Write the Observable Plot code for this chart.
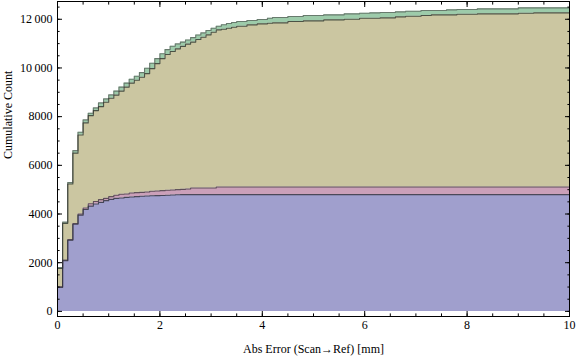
<!DOCTYPE html>
<html><head><meta charset="utf-8">
<script src="https://cdn.jsdelivr.net/npm/d3@7"></script>
<script src="https://cdn.jsdelivr.net/npm/@observablehq/plot@0.6"></script>
<style>
html,body{margin:0;padding:0;background:#fff;}
</style></head><body><div id="chart"></div>
<script>
// Cumulative histogram, bins of 0.1 mm from 0 to 10 mm (stacked series, cumulative tops)
const binWidth = 0.1;
const blueTop = [
  986,2083,2920,3577,3953,4188,4323,4413,4480,4549,
  4603,4644,4660,4685,4700,4713,4727,4741,4750,4754,
  4762,4770,4783,4790,4796,4796,4796,4796,4796,4796,
  4796,4796,4796,4796,4796,4796,4796,4796,4796,4796,
  4796,4796,4796,4796,4796,4796,4796,4796,4796,4796,
  4796,4796,4796,4796,4796,4796,4796,4796,4796,4796,
  4796,4796,4796,4796,4796,4796,4796,4796,4796,4796,
  4796,4796,4796,4796,4796,4796,4796,4796,4796,4796,
  4796,4796,4796,4796,4796,4796,4796,4796,4796,4796,
  4796,4796,4796,4796,4796,4796,4796,4796,4796,4796];
const pinkTop = [
  1010,2105,2950,3610,4000,4250,4420,4515,4590,4644,
  4713,4768,4809,4823,4864,4878,4890,4906,4933,4945,
  4960,4975,4988,5000,5014,5028,5070,5070,5070,5070,
  5070,5110,5110,5110,5110,5110,5110,5110,5110,5110,
  5110,5110,5110,5110,5110,5110,5110,5110,5110,5110,
  5110,5110,5110,5110,5110,5110,5110,5110,5110,5110,
  5110,5110,5110,5110,5110,5110,5110,5110,5110,5110,
  5110,5110,5110,5110,5110,5110,5110,5110,5110,5110,
  5110,5110,5110,5110,5110,5110,5110,5110,5110,5110,
  5110,5110,5110,5110,5110,5110,5110,5110,5110,5110];
const khakiTop = [
  1760,3616,5235,6501,7249,7742,8043,8248,8412,8589,
  8754,8885,9049,9214,9378,9493,9617,9769,9974,10180,
  10385,10550,10673,10784,10887,10981,11063,11166,11261,11359,
  11466,11565,11589,11631,11672,11713,11713,11770,11770,11811,
  11811,11836,11852,11852,11852,11906,11906,11906,11935,11935,
  11935,11935,11976,11976,11976,11976,12000,12000,12000,12042,
  12042,12042,12042,12058,12058,12058,12099,12099,12124,12124,
  12124,12153,12153,12181,12181,12181,12181,12181,12206,12206,
  12206,12206,12222,12222,12222,12222,12222,12222,12222,12222,
  12247,12247,12247,12263,12263,12263,12263,12263,12263,12263];
const greenTop = [
  1800,3665,5290,6604,7356,7866,8137,8359,8565,8729,
  8893,9049,9214,9378,9535,9658,9810,9987,10192,10385,
  10583,10755,10891,10989,11063,11146,11248,11351,11441,11536,
  11631,11713,11774,11824,11865,11906,11906,11947,11947,11988,
  11988,12042,12070,12070,12070,12111,12111,12111,12152,12152,
  12152,12152,12181,12181,12181,12181,12222,12222,12222,12247,
  12247,12263,12263,12276,12276,12276,12305,12305,12329,12329,
  12329,12358,12358,12358,12358,12358,12387,12387,12399,12399,
  12399,12399,12428,12428,12428,12428,12428,12428,12428,12428,
  12469,12469,12469,12469,12469,12469,12469,12469,12469,12469];

const xTicks = [0, 2, 4, 6, 8, 10];
const xTickLabels = ["0", "2", "4", "6", "8", "10"];
const yTicks = [0, 2000, 4000, 6000, 8000, 10000, 12000];
const yTickLabels = ["0", "2000", "4000", "6000", "8000", "10\u2009000", "12\u2009000"];
const xLabel = "Abs Error (Scan\u2192Ref) [mm]";
const yLabel = "Cumulative Count";

const colors = {blue: "#a09fcd", pink: "#cba0b9", khaki: "#cbc6a1", green: "#9dcbaa"};

// rows: one per bin start, plus a closing row at the right edge
const rows = blueTop.map((b, i) => ({x: i * binWidth, b, p: pinkTop[i], k: khakiTop[i], g: greenTop[i]}));
const last = rows[rows.length - 1];
rows.push({...last, x: blueTop.length * binWidth});

const xMinor = d3.range(0, 10.001, 0.5);
const yMinor = d3.range(0, 12501, 500);
const font = "'Liberation Serif', 'Times New Roman', serif";

function tickMarks() {
  const M = 5, m = 2.6;
  const common = {fill: "none", label: null, stroke: "#000", strokeWidth: 1};
  return [
    Plot.axisX({...common, anchor: "bottom", ticks: xTicks, tickSize: M, dy: -M}),
    Plot.axisX({...common, anchor: "bottom", ticks: xMinor, tickSize: m, dy: -m}),
    Plot.axisX({...common, anchor: "top", ticks: xTicks, tickSize: M, dy: M}),
    Plot.axisX({...common, anchor: "top", ticks: xMinor, tickSize: m, dy: m}),
    Plot.axisY({...common, anchor: "left", ticks: yTicks, tickSize: M, dx: M}),
    Plot.axisY({...common, anchor: "left", ticks: yMinor, tickSize: m, dx: m}),
    Plot.axisY({...common, anchor: "right", ticks: yTicks, tickSize: M, dx: -M}),
    Plot.axisY({...common, anchor: "right", ticks: yMinor, tickSize: m, dx: -m})
  ];
}

const chart = Plot.plot({
  width: 576,
  height: 357,
  marginLeft: 57,
  marginRight: 7,
  marginTop: 1,
  marginBottom: 41,
  style: {fontFamily: font, fontSize: "12px", background: "#fff", color: "#000"},
  x: {domain: [0, 10]},
  y: {domain: [-210, 12730]},
  marks: [
    Plot.areaY(rows, {x: "x", y1: 0, y2: "b", curve: "step-after", fill: colors.blue}),
    Plot.areaY(rows, {x: "x", y1: "b", y2: "p", curve: "step-after", fill: colors.pink}),
    Plot.areaY(rows, {x: "x", y1: "p", y2: "k", curve: "step-after", fill: colors.khaki}),
    Plot.areaY(rows, {x: "x", y1: "k", y2: "g", curve: "step-after", fill: colors.green}),
    Plot.lineY(rows, {x: "x", y: "g", curve: "step-after", stroke: "#444", strokeOpacity: 0.6, strokeWidth: 1.1}),
    Plot.lineY(rows, {x: "x", y: "k", curve: "step-after", stroke: "#2a342e", strokeOpacity: 0.8, strokeWidth: 1.1}),
    Plot.lineY(rows, {x: "x", y: "p", curve: "step-after", stroke: "#3a3238", strokeOpacity: 0.75, strokeWidth: 1.1}),
    Plot.lineY(rows, {x: "x", y: "b", curve: "step-after", stroke: "#2e2e3a", strokeOpacity: 0.8, strokeWidth: 1.1}),
    Plot.frame({stroke: "#000", strokeWidth: 1}),
    ...tickMarks(),
    Plot.axisX({anchor: "bottom", ticks: xTicks, tickSize: 0, tickPadding: 4, label: null,
      tickFormat: d => xTickLabels[xTicks.indexOf(d)], fontSize: 12}),
    Plot.axisY({anchor: "left", ticks: yTicks, tickSize: 0, tickPadding: 5, label: null,
      tickFormat: d => yTickLabels[yTicks.indexOf(d)], fontSize: 12}),
    Plot.text([xLabel], {text: d => d, frameAnchor: "bottom", dy: 33, fontSize: 12, lineAnchor: "middle"}),
    Plot.text([yLabel], {text: d => d, frameAnchor: "left", dx: -49, rotate: -90, fontSize: 12, lineAnchor: "middle"})
  ]
});
document.getElementById("chart").appendChild(chart);
</script>
</body></html>
